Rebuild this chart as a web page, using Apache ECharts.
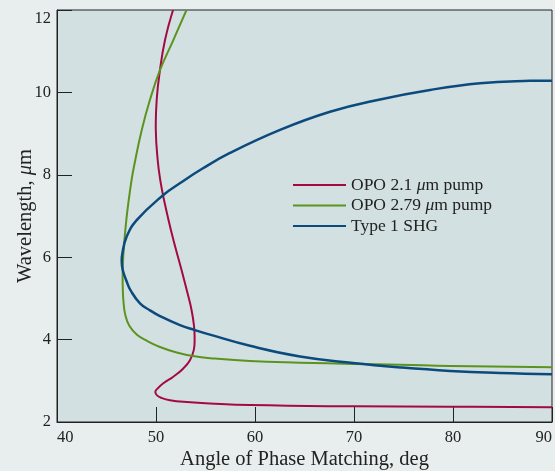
<!DOCTYPE html>
<html>
<head>
<meta charset="utf-8">
<script src="https://cdn.jsdelivr.net/npm/echarts@6/dist/echarts.min.js"></script>
<style>
  html, body { margin: 0; padding: 0; background: #e8eeee; }
  #chart { width: 555px; height: 471px; }
</style>
</head>
<body>
<div id="chart"></div>
<script>
// Phase-matching curves: wavelength (µm) versus angle of phase matching (deg)
const seriesNames = ['OPO 2.1 μm pump', 'OPO 2.79 μm pump', 'Type 1 SHG'];

// OPO pumped at 2.1 µm, traced from the top of the range downward
const opo21Wavelength = [12.0, 11.27, 10.54, 9.82, 9.09, 8.36, 7.87, 7.39, 6.50, 5.69, 5.13, 4.72, 4.33, 4.04, 3.75, 3.50, 3.30, 3.10, 2.94, 2.81, 2.73, 2.64, 2.58, 2.53, 2.49, 2.45, 2.41, 2.38, 2.37, 2.36];
const opo21Angle      = [51.72, 50.91, 50.40, 50.07, 49.98, 50.17, 50.43, 50.81, 51.67, 52.58, 53.18, 53.59, 53.84, 53.90, 53.82, 53.43, 52.76, 51.75, 50.74, 50.15, 49.93, 50.13, 50.61, 51.41, 52.76, 55.45, 59.49, 69.9, 79.7, 90];

// OPO pumped at 2.79 µm
const opo279Wavelength = [12.0, 11.27, 10.54, 9.82, 9.09, 8.36, 7.87, 6.90, 6.05, 5.57, 5.20, 4.91, 4.60, 4.33, 4.12, 3.97, 3.82, 3.70, 3.60, 3.54, 3.48, 3.44, 3.41, 3.39, 3.36, 3.33];
const opo279Angle      = [53.08, 51.75, 50.40, 49.39, 48.56, 47.91, 47.53, 47.0, 46.70, 46.63, 46.65, 46.72, 46.90, 47.32, 48.08, 49.09, 50.40, 51.92, 53.74, 55.96, 59.49, 64.55, 69.9, 74.65, 79.7, 90];

// Type 1 second-harmonic generation, traced from the upper branch around to the lower branch
const shgWavelength = [10.28, 10.28, 10.22, 10.06, 9.83, 9.53, 9.09, 8.53, 8.14, 7.80, 7.51, 6.90, 6.50, 6.09, 5.89, 5.69, 5.41, 5.20, 4.88, 4.71, 4.57, 4.35, 4.23, 4.12, 3.85, 3.59, 3.43, 3.32, 3.24, 3.19, 3.16];
const shgAngle      = [90, 87.78, 82.73, 77.68, 72.63, 67.58, 62.53, 57.47, 54.62, 52.44, 50.74, 48.05, 47.04, 46.60, 46.54, 46.64, 47.04, 47.42, 48.38, 49.39, 50.40, 52.42, 53.94, 55.45, 59.49, 64.55, 69.9, 74.85, 79.7, 84.75, 90];

const xTicks = [40, 50, 60, 70, 80, 90];
const yTicks = [2, 4, 6, 8, 10, 12];

const colors = ['#a30a42', '#5b931f', '#0b4a7d'];
const lineWidths = [2, 2, 2.5];

function pairs(angles, wavelengths) {
  return angles.map((a, i) => [a, wavelengths[i]]);
}

// One smooth polyline per series, passing through every data point
// (points are placed with the grid's own axis scales).
function curveSeries(idx, angles, wavelengths) {
  const data = pairs(angles, wavelengths);
  return {
    name: seriesNames[idx],
    type: 'custom',
    coordinateSystem: 'cartesian2d',
    data: data,
    encode: { x: 0, y: 1 },
    itemStyle: { color: colors[idx] },
    clip: true,
    renderItem: function (params, api) {
      if (params.dataIndex !== 0) return null;
      const pts = data.map(d => api.coord(d));
      return {
        type: 'polyline',
        shape: { points: pts, smooth: 0.45 },
        style: { stroke: colors[idx], lineWidth: lineWidths[idx], fill: null, lineJoin: 'round' },
        silent: true
      };
    }
  };
}

const serif = '"Liberation Serif", "DejaVu Serif", serif';

const chart = echarts.init(document.getElementById('chart'), null, { renderer: 'canvas' });

chart.setOption({
  backgroundColor: '#e8eeee',
  animation: false,
  textStyle: { fontFamily: serif, color: '#222' },
  grid: {
    left: 57, right: 3, top: 10, bottom: 49,
    outerBoundsMode: 'none',
    containLabel: false,
    show: true,
    backgroundColor: '#d3e0e1',
    borderColor: '#222',
    borderWidth: 1
  },
  legend: {
    left: 288,
    top: 171,
    orient: 'vertical',
    itemWidth: 53,
    itemHeight: 2,
    itemGap: 2.5,
    icon: 'rect',
    data: seriesNames.map((n, i) => ({ name: n, itemStyle: { color: colors[i] } })),
    formatter: name => name.replace('μ', '{i|μ}'),
    textStyle: {
      fontFamily: serif, fontSize: 17.5, color: '#222',
      rich: { i: { fontStyle: 'italic', fontFamily: serif, fontSize: 17.5, color: '#222' } }
    }
  },
  xAxis: {
    type: 'value',
    min: xTicks[0],
    max: xTicks[xTicks.length - 1],
    interval: 10,
    name: 'Angle of Phase Matching, deg',
    nameLocation: 'middle',
    nameGap: 27,
    nameMoveOverlap: false,
    nameTextStyle: { fontFamily: serif, fontSize: 20.5, color: '#222' },
    axisLine: { lineStyle: { color: '#222', width: 1 } },
    axisTick: { inside: true, length: 15, lineStyle: { color: '#222' } },
    axisLabel: {
      fontFamily: serif, fontSize: 16.5, color: '#222', margin: 7,
      alignMinLabel: 'left', alignMaxLabel: 'right'
    },
    splitLine: { show: false }
  },
  yAxis: {
    type: 'value',
    min: yTicks[0],
    max: yTicks[yTicks.length - 1],
    interval: 2,
    name: 'Wavelength, {i|μ}m',
    nameLocation: 'middle',
    nameRotate: 90,
    nameGap: 21,
    nameMoveOverlap: false,
    nameTextStyle: {
      fontFamily: serif, fontSize: 20.5, color: '#222',
      rich: { i: { fontStyle: 'italic', fontFamily: serif, fontSize: 20.5, color: '#222' } }
    },
    axisLine: { lineStyle: { color: '#222', width: 1 } },
    axisTick: { inside: true, length: 15, lineStyle: { color: '#222' } },
    axisLabel: {
      fontFamily: serif, fontSize: 16.5, color: '#222', margin: 6,
      verticalAlignMaxLabel: 'top'
    },
    splitLine: { show: false }
  },
  series: [
    curveSeries(0, opo21Angle, opo21Wavelength),
    curveSeries(1, opo279Angle, opo279Wavelength),
    curveSeries(2, shgAngle, shgWavelength)
  ]
});
</script>
</body>
</html>
